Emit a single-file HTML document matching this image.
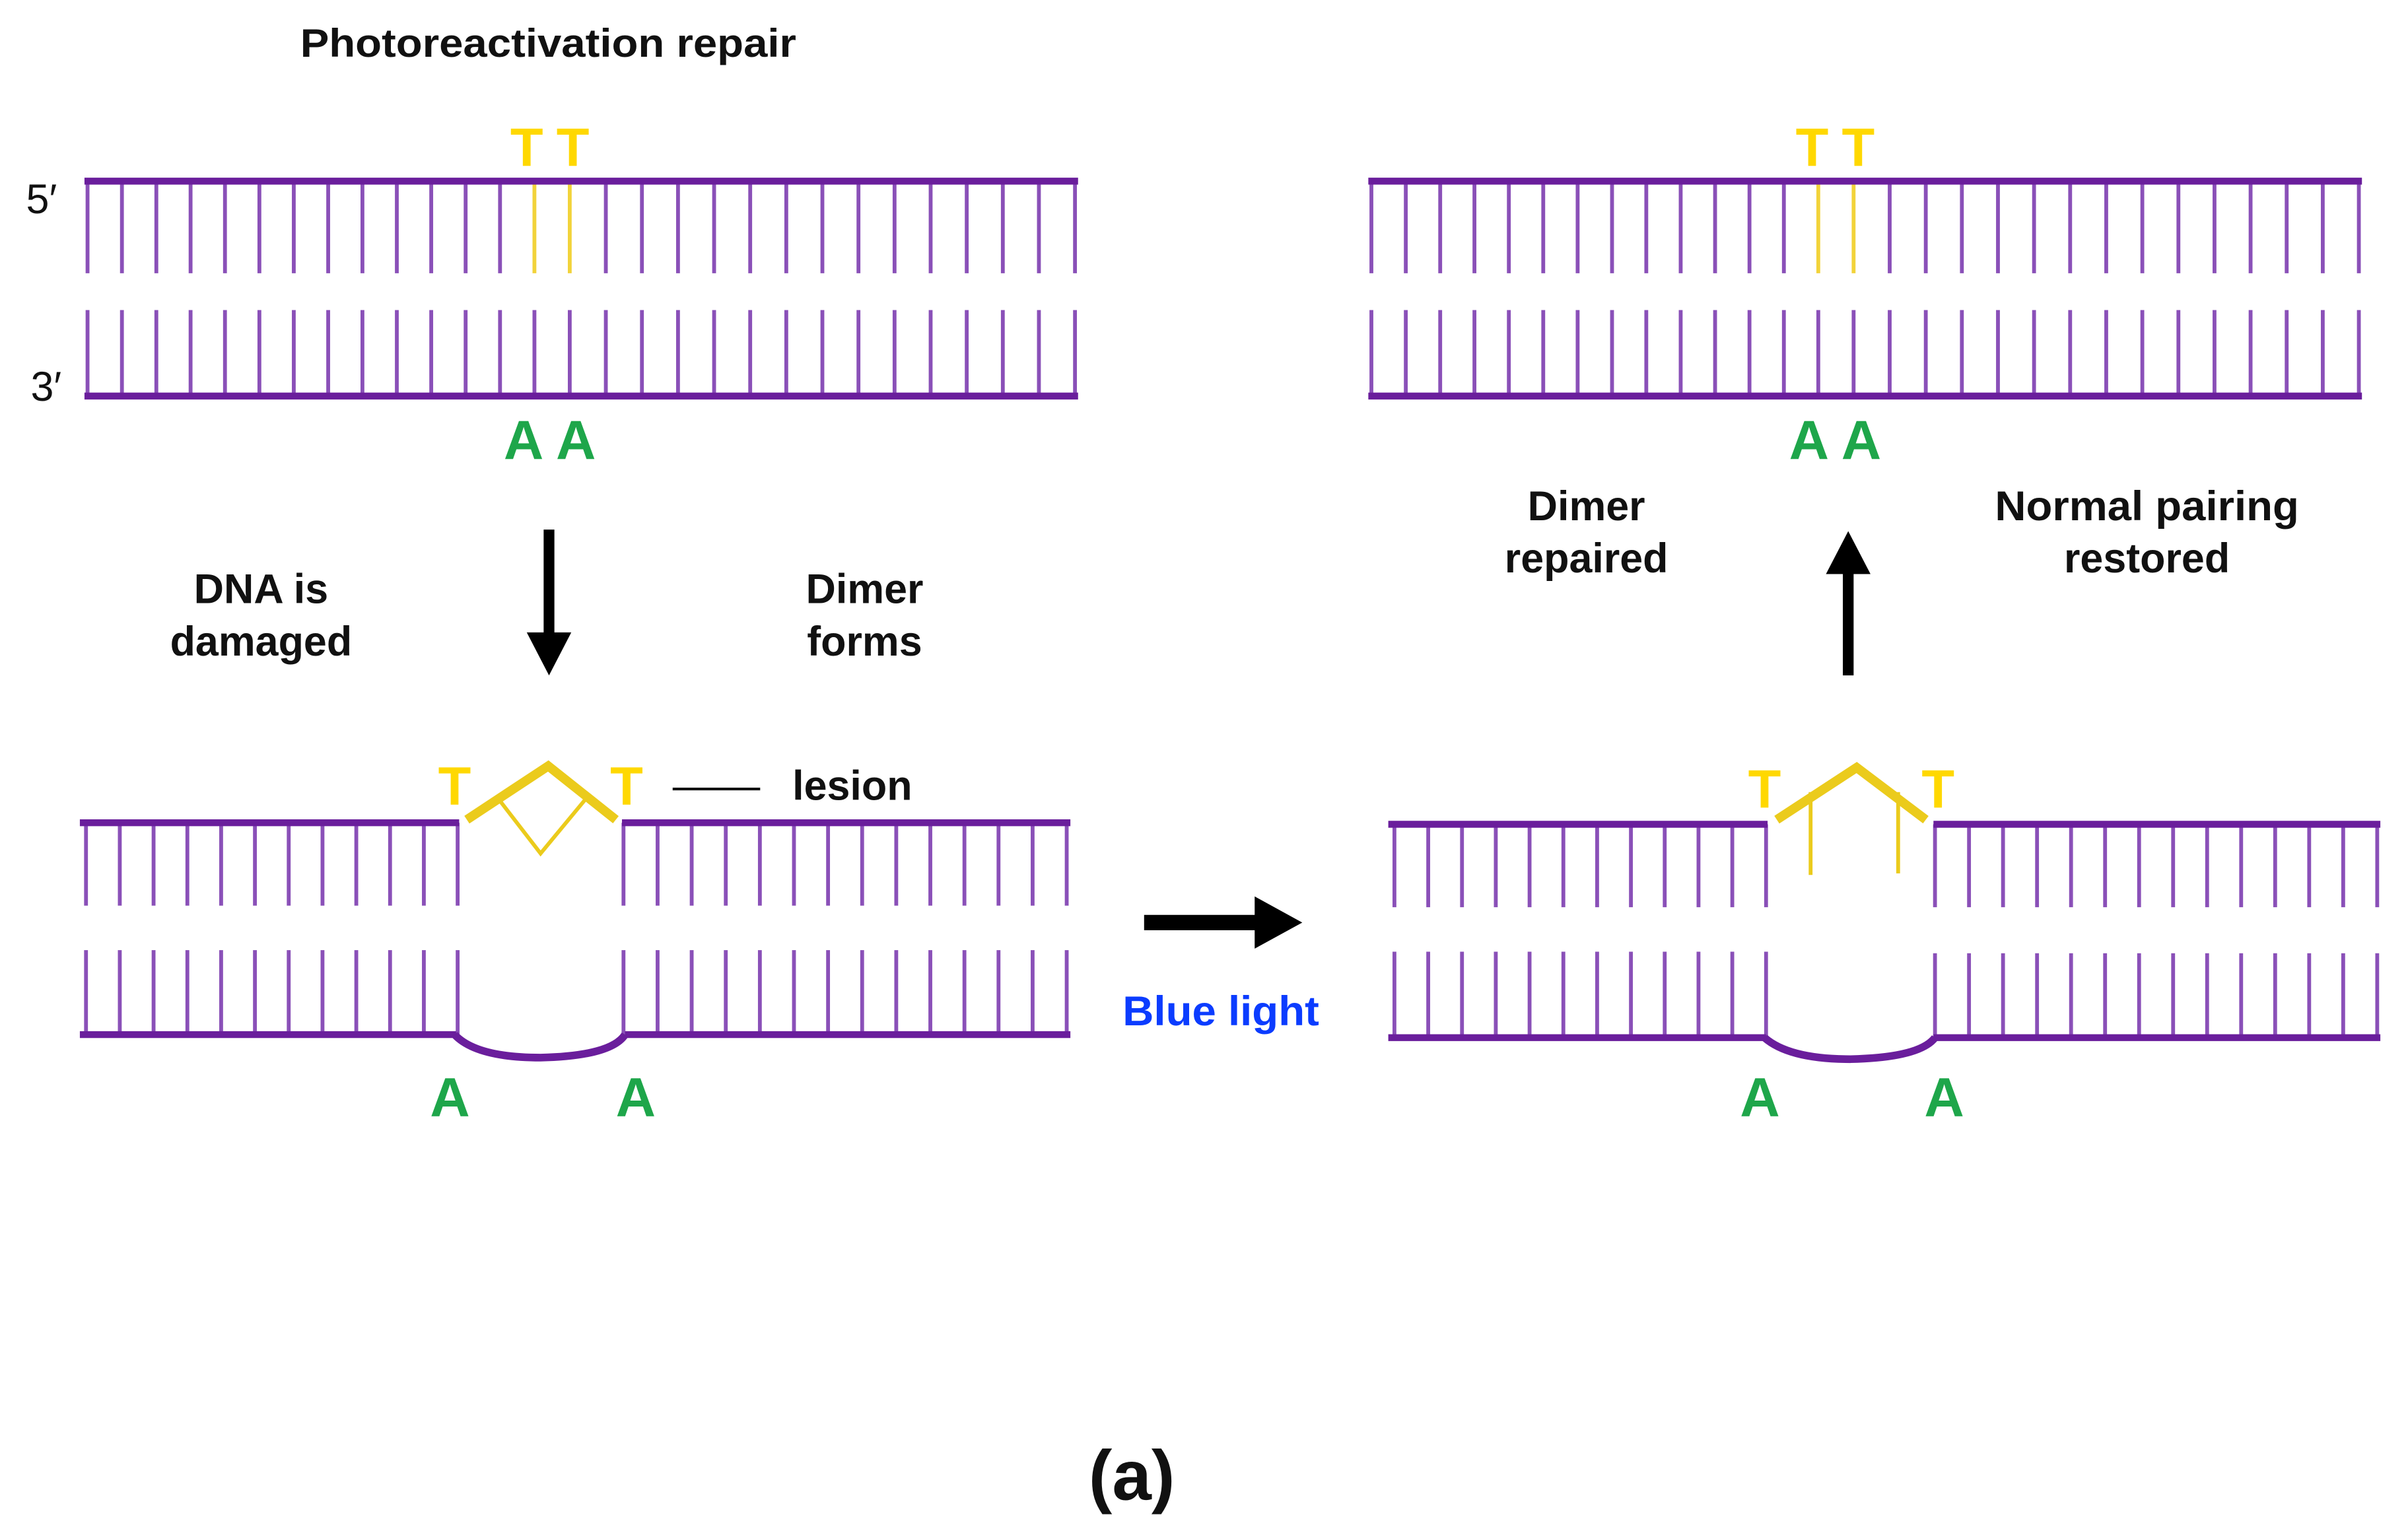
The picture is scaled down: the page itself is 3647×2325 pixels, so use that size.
<!DOCTYPE html>
<html><head><meta charset="utf-8"><style>
html,body{margin:0;padding:0;background:#fff;}
svg{display:block;}
text{font-family:"Liberation Sans",Arial,sans-serif;font-weight:bold;}
</style></head><body>
<svg width="3647" height="2325" viewBox="0 0 1568 1000" preserveAspectRatio="none" xmlns="http://www.w3.org/2000/svg">
<defs>
<g id="topdna">
<g stroke="#8a50b8" stroke-width="2.5" fill="none">
<path d="M57 118V178 M79.4 118V178 M101.8 118V178 M124.1 118V178 M146.5 118V178 M168.9 118V178 M191.3 118V178 M213.7 118V178 M236 118V178 M258.4 118V178 M280.8 118V178 M303.2 118V178 M325.6 118V178 M394.5 118V178 M418 118V178 M441.5 118V178 M465 118V178 M488.5 118V178 M512 118V178 M535.5 118V178 M559 118V178 M582.5 118V178 M606 118V178 M629.5 118V178 M653 118V178 M676.5 118V178 M700 118V178"/>
<path d="M57 202V258 M79.4 202V258 M101.8 202V258 M124.1 202V258 M146.5 202V258 M168.9 202V258 M191.3 202V258 M213.7 202V258 M236 202V258 M258.4 202V258 M280.8 202V258 M303.2 202V258 M325.6 202V258 M348 202V258 M371 202V258 M394.5 202V258 M418 202V258 M441.5 202V258 M465 202V258 M488.5 202V258 M512 202V258 M535.5 202V258 M559 202V258 M582.5 202V258 M606 202V258 M629.5 202V258 M653 202V258 M676.5 202V258 M700 202V258"/>
</g>
<path d="M348 120v58 M371 120v58" stroke="#f2d33a" stroke-width="2.5"/>
<path d="M55 118H702 M55 258H702" stroke="#6a1e9c" stroke-width="4.5"/>
</g>
</defs>
<rect width="1568" height="1000" fill="#fff"/>
<text x="357" y="37" font-size="26" text-anchor="middle" fill="#111" textLength="323" lengthAdjust="spacingAndGlyphs">Photoreactivation repair</text>
<text x="17" y="139" font-size="27" style="font-weight:normal" fill="#111">5′</text>
<text x="20" y="261" font-size="27" style="font-weight:normal" fill="#111">3′</text>

<use href="#topdna"/>
<use href="#topdna" transform="translate(836,0)"/>

<!-- bottom-left DNA -->
<g stroke="#8a50b8" stroke-width="2.5" fill="none">
<path d="M298 536v54 m-22 -54v54 m-22 -54v54 m-22 -54v54 m-22 -54v54 m-22 -54v54 m-22 -54v54 m-22 -54v54 m-22 -54v54 m-22 -54v54 m-22 -54v54 m-22 -54v54"/>
<path d="M298 619v55 m-22 -55v55 m-22 -55v55 m-22 -55v55 m-22 -55v55 m-22 -55v55 m-22 -55v55 m-22 -55v55 m-22 -55v55 m-22 -55v55 m-22 -55v55 m-22 -55v55"/>
<path d="M406 536v54 m22.2 -54v54 m22.2 -54v54 m22.2 -54v54 m22.2 -54v54 m22.2 -54v54 m22.2 -54v54 m22.2 -54v54 m22.2 -54v54 m22.2 -54v54 m22.2 -54v54 m22.2 -54v54 m22.2 -54v54 m22.2 -54v54"/>
<path d="M406 619v55 m22.2 -55v55 m22.2 -55v55 m22.2 -55v55 m22.2 -55v55 m22.2 -55v55 m22.2 -55v55 m22.2 -55v55 m22.2 -55v55 m22.2 -55v55 m22.2 -55v55 m22.2 -55v55 m22.2 -55v55 m22.2 -55v55"/>
</g>
<g stroke="#6a1e9c" stroke-width="4.5" fill="none">
<path d="M52 536H299 M405 536H697 M52 674H297 M407 674H697"/>
<path d="M296 674 Q310 689 352 689 Q398 688 407 674" stroke-width="5"/>
</g>
<g stroke="#ebcb1c" fill="none">
<path d="M304 534 L357 499 L401 534" stroke-width="6"/>
<path d="M325 521 L352 556 L381 521" stroke-width="2.5"/>
</g>

<!-- bottom-right DNA -->
<g stroke="#8a50b8" stroke-width="2.5" fill="none">
<path d="M1150 537v54 m-22 -54v54 m-22 -54v54 m-22 -54v54 m-22 -54v54 m-22 -54v54 m-22 -54v54 m-22 -54v54 m-22 -54v54 m-22 -54v54 m-22 -54v54 m-22 -54v54"/>
<path d="M1150 620v55 m-22 -55v55 m-22 -55v55 m-22 -55v55 m-22 -55v55 m-22 -55v55 m-22 -55v55 m-22 -55v55 m-22 -55v55 m-22 -55v55 m-22 -55v55 m-22 -55v55"/>
<path d="M1260 537v54 m22.15 -54v54 m22.15 -54v54 m22.15 -54v54 m22.15 -54v54 m22.15 -54v54 m22.15 -54v54 m22.15 -54v54 m22.15 -54v54 m22.15 -54v54 m22.15 -54v54 m22.15 -54v54 m22.15 -54v54 m22.15 -54v54"/>
<path d="M1260 621v55 m22.15 -55v55 m22.15 -55v55 m22.15 -55v55 m22.15 -55v55 m22.15 -55v55 m22.15 -55v55 m22.15 -55v55 m22.15 -55v55 m22.15 -55v55 m22.15 -55v55 m22.15 -55v55 m22.15 -55v55 m22.15 -55v55"/>
</g>
<g stroke="#6a1e9c" stroke-width="4.5" fill="none">
<path d="M904 676H1150 M1259 676H1550 M904 537H1151 M1259 537H1550"/>
<path d="M1149 676 Q1165 690 1205 690 Q1250 689 1260 676" stroke-width="5"/>
</g>
<g stroke="#ebcb1c" fill="none">
<path d="M1157 534 L1209 500 L1254 534" stroke-width="6"/>
<path d="M1179 516v54 M1236 516v53" stroke-width="2.5"/>
</g>

<!-- letters -->
<g fill="#ffd800" font-size="35" text-anchor="middle">
<text x="343" y="108">T</text><text x="373" y="108">T</text>
<text x="1180" y="108">T</text><text x="1210" y="108">T</text>
<text x="296" y="524">T</text><text x="408" y="524">T</text>
<text x="1149" y="526">T</text><text x="1262" y="526">T</text>
</g>
<g fill="#1ea64a" font-size="36" text-anchor="middle">
<text x="341" y="299">A</text><text x="375" y="299">A</text>
<text x="1178" y="299">A</text><text x="1212" y="299">A</text>
<text x="293" y="727">A</text><text x="414" y="727">A</text>
<text x="1146" y="727">A</text><text x="1266" y="727">A</text>
</g>

<!-- arrows -->
<path d="M354 345h7v67h11l-14.5 28l-14.5 -28h11z" fill="#000"/>
<path d="M1200 440h7v-66h11l-14.5 -28l-14.5 28h11z" fill="#000"/>
<path d="M745 596h72v-12l31 17l-31 17v-12h-72z" fill="#000"/>
<line x1="438" y1="514" x2="495" y2="514" stroke="#111" stroke-width="1.8"/>

<!-- labels -->
<g fill="#111" font-size="27" text-anchor="middle">
<text x="170" y="393">DNA is</text><text x="170" y="427">damaged</text>
<text x="563" y="393">Dimer</text><text x="563" y="427">forms</text>
<text x="1033" y="339">Dimer</text><text x="1033" y="373">repaired</text>
<text x="1398" y="339" textLength="198" lengthAdjust="spacingAndGlyphs">Normal pairing</text><text x="1398" y="373">restored</text>
<text x="555" y="521">lesion</text>
</g>
<text x="795" y="668" font-size="27" fill="#0b3cff" text-anchor="middle" textLength="128" lengthAdjust="spacingAndGlyphs">Blue light</text>
<text x="737" y="977" font-size="46" fill="#111" text-anchor="middle">(a)</text>
</svg>
</body></html>
